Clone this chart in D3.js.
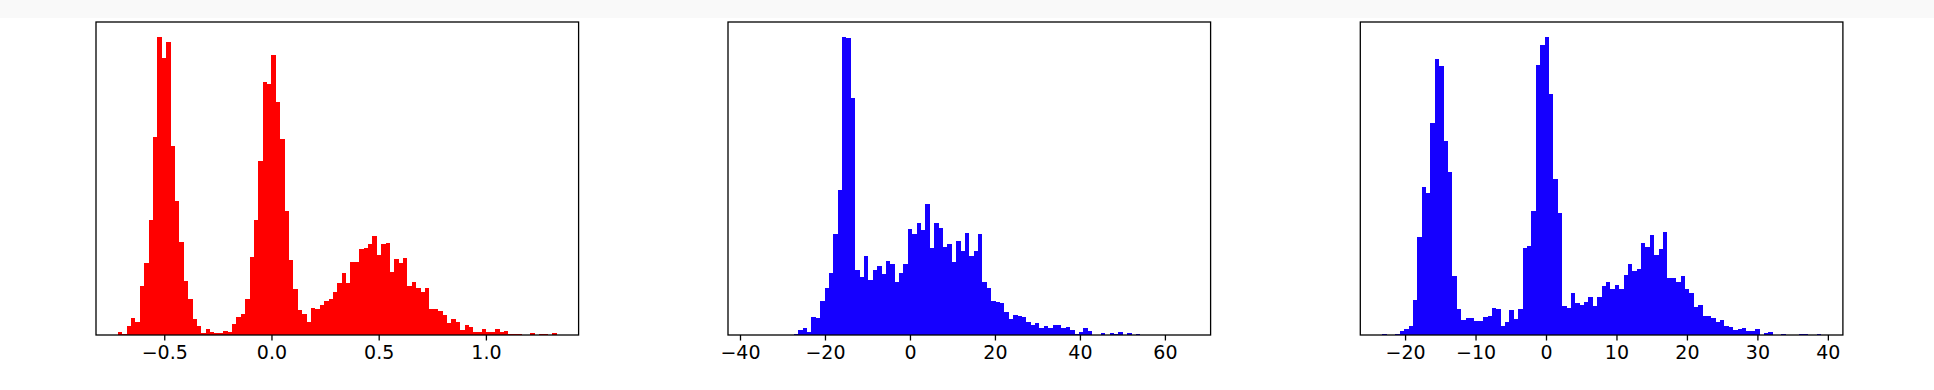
<!DOCTYPE html>
<html>
<head>
<meta charset="utf-8">
<script src="https://cdn.jsdelivr.net/npm/d3@7"></script>
<style>
  body { margin: 0; background: #fff; }
  svg { display: block; }
</style>
</head>
<body>
<script>
// bin counts (100 bins per panel)
var redCounts = [3,1,9,17,13,49,72,115,198,298,
  277,293,189,134,93,54,36,16,9,2,
  6,3,2,2,4,3,11,18,21,36,
  78,115,174,253,251,280,233,196,124,75,
  46,25,21,13,27,26,30,34,36,43,
  52,62,52,73,73,86,87,91,99,80,
  91,92,63,76,72,77,49,53,47,43,
  47,26,26,24,20,12,16,13,5,10,
  8,3,3,6,3,3,6,3,4,1,
  1,1,0,0,2,0,1,1,0,2];

var blueCountsA = [0,0,0,0,0,0,0,0,0,0,
  1,5,7,3,18,17,34,47,62,101,
  145,298,297,237,65,58,79,55,65,69,
  61,74,71,53,62,71,106,101,112,105,
  131,87,112,107,88,91,73,94,84,102,
  79,84,101,53,47,34,33,32,23,16,
  20,19,18,13,10,12,7,9,7,10,
  10,7,8,5,1,3,7,4,0,0,
  2,0,2,1,3,0,2,0,1,0,
  0,0,0,0,0,0,0,0,0,0];

var blueCountsB = [1,0,0,1,4,6,9,35,98,148,
  142,212,276,269,194,163,59,26,15,17,
  17,14,14,18,19,27,26,9,13,25,
  16,26,87,89,124,270,290,298,241,156,
  122,29,27,42,32,30,33,38,29,38,
  49,53,46,50,46,60,71,64,66,92,
  88,100,80,86,103,57,57,53,59,46,
  42,28,30,19,19,17,13,15,9,8,
  5,6,7,4,4,6,0,2,3,0,
  0,1,0,0,0,1,1,0,0,1];

// data ranges of the histograms
var redRange = [-0.716, 1.330];
var blueRangeA = [-37.66, 65.59];
var blueRangeB = [-23.24, 39.02];

// tick values
var redTicks = [-0.5, 0.0, 0.5, 1.0];
var blueTicksA = [-40, -20, 0, 20, 40, 60];
var blueTicksB = [-20, -10, 0, 10, 20, 30, 40];

var W = 1934, H = 390;
var plotTop = 22, plotBottom = 335, panelW = 482.6;
var panels = [
  {left: 96, counts: redCounts, range: redRange, ticks: redTicks, fmt: d3.format(".1f"), color: "#ff0000"},
  {left: 728, counts: blueCountsA, range: blueRangeA, ticks: blueTicksA, fmt: d3.format("d"), color: "#1500ff"},
  {left: 1360.3, counts: blueCountsB, range: blueRangeB, ticks: blueTicksB, fmt: d3.format("d"), color: "#1500ff"}
];

var svg = d3.select("body").append("svg")
    .attr("width", W)
    .attr("height", H);

svg.append("rect")
    .attr("x", 0).attr("y", 0)
    .attr("width", W).attr("height", 18)
    .style("fill", "#f9f9f9");

panels.forEach(function(p) {
  var n = p.counts.length;
  var span = p.range[1] - p.range[0];
  var bw = span / n;
  var bins = p.counts.map(function(c, i) {
    return {x0: p.range[0] + i * bw, x1: p.range[0] + (i + 1) * bw, count: c};
  });

  // matplotlib style 5% margins on x, 5% on top of y
  var x = d3.scaleLinear()
      .domain([p.range[0] - 0.05 * span, p.range[1] + 0.05 * span])
      .range([p.left, p.left + panelW]);
  var y = d3.scaleLinear()
      .domain([0, d3.max(p.counts) * 1.05])
      .range([plotBottom, plotTop]);

  var g = svg.append("g");

  g.append("rect")
      .attr("x", p.left)
      .attr("y", plotTop)
      .attr("width", panelW)
      .attr("height", plotBottom - plotTop)
      .style("fill", "#fff");

  g.selectAll("rect.bar")
      .data(bins.filter(function(d) { return d.count > 0; }))
      .enter()
      .append("rect")
      .attr("class", "bar")
      .attr("x", function(d) { return x(d.x0); })
      .attr("width", function(d) { return x(d.x1) - x(d.x0); })
      .attr("y", function(d) { return y(d.count); })
      .attr("height", function(d) { return y(0) - y(d.count); })
      .attr("shape-rendering", "crispEdges")
      .style("fill", p.color);

  // x axis
  var axis = g.append("g")
      .attr("transform", "translate(0," + plotBottom + ")")
      .call(d3.axisBottom(x).tickValues(p.ticks).tickFormat(p.fmt).tickSize(5.5).tickPadding(5));
  axis.select(".domain").remove();
  axis.selectAll(".tick line").style("stroke", "#000").style("stroke-width", 1.3);
  axis.selectAll(".tick text")
      .attr("font-family", "DejaVu Sans")
      .attr("font-size", 19)
      .style("fill", "#000");

  // frame
  g.append("rect")
      .attr("x", p.left)
      .attr("y", plotTop)
      .attr("width", panelW)
      .attr("height", plotBottom - plotTop)
      .style("fill", "none")
      .style("stroke", "#000")
      .style("stroke-width", 1.3);
});
</script>
</body>
</html>
